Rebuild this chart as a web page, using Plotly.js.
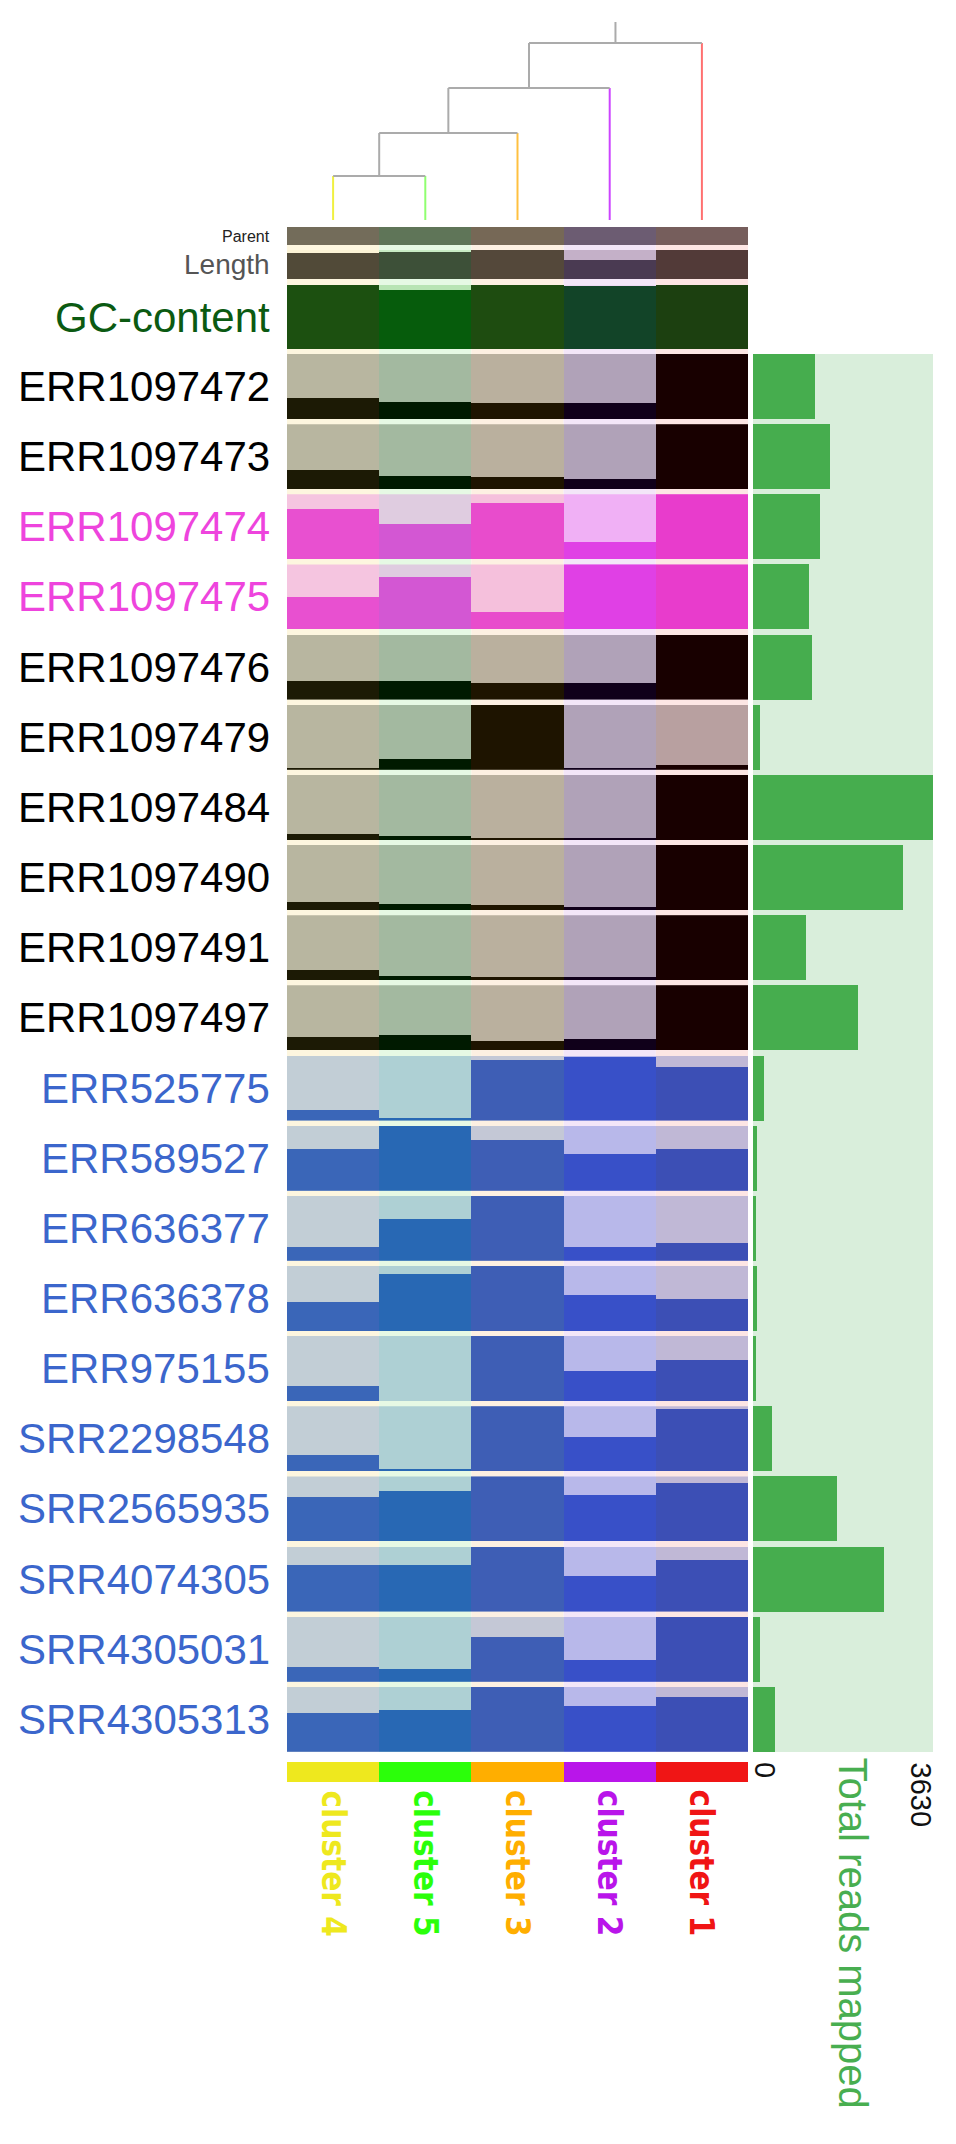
<!DOCTYPE html>
<html>
<head>
<meta charset="utf-8">
<script src="https://cdn.plot.ly/plotly-3.0.1.min.js"></script>
<style>html,body{margin:0;padding:0;background:#fff;}#chart{width:956px;height:2144px;}</style>
</head>
<body>
<div id="chart"></div>
<script>
// ---------- DATA ----------
const clusters = ['cluster 4', 'cluster 5', 'cluster 3', 'cluster 2', 'cluster 1'];
const samples = ['ERR1097472','ERR1097473','ERR1097474','ERR1097475','ERR1097476','ERR1097479',
  'ERR1097484','ERR1097490','ERR1097491','ERR1097497','ERR525775','ERR589527','ERR636377',
  'ERR636378','ERR975155','SRR2298548','SRR2565935','SRR4074305','SRR4305031','SRR4305313'];
const sampleGroup = ['black','black','pink','pink','black','black','black','black','black','black',
  'blue','blue','blue','blue','blue','blue','blue','blue','blue','blue'];

// annotation rows (fraction filled per cluster)
const parentVals = [1, 1, 1, 1, 1];
const lengthVals = [0.90, 0.93, 1, 0.66, 1];
const gcVals = [1, 0.92, 1, 0.98, 1];

// fraction per sample for each cluster column
const cluster4Frac = [0.33,0.29,0.77,0.50,0.28,0.03,0.09,0.12,0.15,0.20,0.16,0.64,0.22,0.44,0.23,0.25,0.68,0.72,0.22,0.60];
const cluster5Frac = [0.26,0.20,0.55,0.80,0.28,0.16,0.06,0.09,0.07,0.24,0.04,1.00,0.64,0.87,0.00,0.03,0.77,0.72,0.20,0.65];
const cluster3Frac = [0.24,0.18,0.86,0.27,0.26,1.00,0.03,0.07,0.05,0.15,0.93,0.78,1.00,1.00,1.00,1.00,1.00,1.00,0.69,1.00];
const cluster2Frac = [0.24,0.15,0.26,1.00,0.26,0.03,0.03,0.04,0.05,0.17,0.98,0.57,0.22,0.56,0.46,0.53,0.71,0.54,0.33,0.71];
const cluster1Frac = [1.00,1.00,1.00,1.00,1.00,0.07,1.00,1.00,1.00,1.00,0.82,0.64,0.28,0.49,0.63,0.96,0.90,0.80,1.00,0.84];

const totalReads = [1250,1560,1345,1130,1197,141,3630,3025,1063,2111,228,87,60,74,60,383,1688,2649,134,438];
const readsMax = 3630;

// dendrogram merge heights (ladder: (c4,c5) -> +c3 -> +c2 -> +c1)
const mergeHeights = [0.22, 0.435, 0.66, 0.885];
const rootHeight = 0.99;

// ---------- STYLE ----------
const W = 956, H = 2144;
const FONT = 'Liberation Sans, Arial, Helvetica, sans-serif';
const clusterColors = ['#eee81e', '#2bff0a', '#ffae00', '#b915ea', '#f01515'];
const leafLineColors = ['#f0f040', '#90ff70', '#ffc040', '#cc44ff', '#ff7070'];
const gapTints = ['#fdf6df', '#e6f9e4', '#fdf0e2', '#f3e6f8', '#fde6e4'];
const groupLight = {
  black: ['#b8b6a0', '#a3b9a0', '#bab09e', '#b0a2b8', '#b8a0a0'],
  pink:  ['#f5c5e0', '#dfcce0', '#f5c0dc', '#f0b0f5', '#f5c0dc'],
  blue:  ['#c2ced6', '#aed0d4', '#c4c8d6', '#b8b8ea', '#c0b8d6']
};
const groupDark = {
  black: ['#1c1a05', '#001a00', '#1e1400', '#10001a', '#180000'],
  pink:  ['#e850d0', '#d357d3', '#e84ccc', '#e040e5', '#e83ccc'],
  blue:  ['#3a66b8', '#2868b4', '#3e5eb5', '#3850c8', '#3c4fb5']
};
const groupLabel = { black: '#000000', pink: '#ee44dd', blue: '#3b66cc' };

const sampleFracByCol = [cluster4Frac, cluster5Frac, cluster3Frac, cluster2Frac, cluster1Frac];

const traces = [];
const layout = {
  width: W, height: H,
  margin: { l: 0, r: 0, t: 0, b: 0 },
  showlegend: false,
  barmode: 'overlay',
  bargap: 0,
  paper_bgcolor: '#ffffff',
  plot_bgcolor: 'rgba(0,0,0,0)',
  annotations: [],
  shapes: [],
  xaxis: { domain: [287 / W, 748 / W], range: [-0.5, 4.5], visible: false, fixedrange: true }
};
const xs = clusters.map((_, i) => i);

let axisN = 0;
function newY(top, bottom, extra) {
  axisN++;
  const name = axisN === 1 ? 'y' : 'y' + axisN;
  const key = axisN === 1 ? 'yaxis' : 'yaxis' + axisN;
  layout[key] = Object.assign({ domain: [1 - bottom / H, 1 - top / H], range: [0, 1], visible: false, anchor: 'x', fixedrange: true }, extra || {});
  return name;
}

function addRow(top, bottom, vals, light, dark, label, font) {
  const yn = newY(top, bottom);
  traces.push({ type: 'bar', x: xs, y: xs.map(() => 1), width: 1, xaxis: 'x', yaxis: yn,
    marker: { color: light, line: { width: 0 } }, hoverinfo: 'skip' });
  traces.push({ type: 'bar', x: xs, y: vals, width: 1, xaxis: 'x', yaxis: yn,
    marker: { color: dark, line: { width: 0 } }, hoverinfo: 'skip' });
  layout.annotations.push({ xref: 'paper', x: 272 / W, xanchor: 'right', yref: yn + ' domain', y: 0.5,
    yanchor: 'middle', text: label, showarrow: false, font: font });
}

// column tints behind the grid (visible in the row gaps)
xs.forEach(i => {
  layout.shapes.push({ type: 'rect', layer: 'below', xref: 'x', yref: 'paper', x0: i - 0.5, x1: i + 0.5,
    y0: 1 - 1752 / H, y1: 1 - 227 / H, fillcolor: gapTints[i], line: { width: 0 } });
});

// annotation rows
addRow(227, 245, parentVals, ['#736c5a','#5f7558','#766856','#6c5c72','#765e5c'],
  ['#736c5a','#5f7558','#766856','#6c5c72','#765e5c'], 'Parent', { family: FONT, size: 16, color: '#222' });
addRow(250, 279, lengthVals, ['#fbf3d5','#c8ecc4','#fbeedd','#c4b0c8','#fbe3df'],
  ['#514a38','#3d5038','#54483a','#4a3a52','#523a38'], 'Length', { family: FONT, size: 28, color: '#555' });
addRow(285, 349, gcVals, ['#fbf3d5','#b8e4b4','#fbeedd','#eed9f4','#fbe3df'],
  ['#1c5010','#065c0c','#1e4c10','#124428','#1c4010'], 'GC-content', { family: FONT, size: 42, color: '#0b5a12' });

// sample rows
const pitch = 70.15, rowH = 65, firstTop = 354;
samples.forEach((s, r) => {
  const top = firstTop + pitch * r;
  const g = sampleGroup[r];
  addRow(top, top + rowH, sampleFracByCol.map(col => col[r]), groupLight[g], groupDark[g], s,
    { family: FONT, size: 42, color: groupLabel[g] });
});

// total reads mapped (horizontal bars)
layout.xaxis2 = { domain: [753 / W, 933 / W], range: [0, readsMax], visible: false, anchor: 'y' + (axisN + 1), fixedrange: true };
const firstC = firstTop + rowH / 2, lastC = firstC + pitch * (samples.length - 1);
const yReads = newY(firstC - pitch / 2, lastC + pitch / 2,
  { type: 'category', categoryarray: samples, categoryorder: 'array', range: [samples.length - 0.5, -0.5], anchor: 'x2' });
layout.shapes.push({ type: 'rect', layer: 'below', xref: 'x2 domain', yref: 'paper', x0: 0, x1: 1,
  y0: 1 - 1752 / H, y1: 1 - 354 / H, fillcolor: '#d9eedb', line: { width: 0 } });
traces.push({ type: 'bar', orientation: 'h', y: samples, x: totalReads, xaxis: 'x2', yaxis: yReads,
  width: rowH / pitch, marker: { color: '#46ad4e', line: { width: 0 } }, hoverinfo: 'skip' });

// dendrogram
const yDen = newY(20, 220);
function seg(x0, y0, x1, y1, color) {
  traces.push({ type: 'scatter', mode: 'lines', x: [x0, x1], y: [y0, y1], xaxis: 'x', yaxis: yDen,
    line: { color: color, width: 2 }, hoverinfo: 'skip' });
}
const GRAY = '#ababab';
let leftX = 0, leftH = 0;
mergeHeights.forEach((h, k) => {
  const right = k + 1;
  if (k === 0) seg(0, 0, 0, h, leafLineColors[0]);
  else seg(leftX, leftH, leftX, h, GRAY);
  seg(right, 0, right, h, leafLineColors[right]);
  seg(leftX, h, right, h, GRAY);
  leftX = (leftX + right) / 2; leftH = h;
});
seg(leftX, leftH, leftX, rootHeight, GRAY);

// cluster colour bar
const yBar = newY(1762, 1782);
traces.push({ type: 'bar', x: xs, y: xs.map(() => 1), width: 1, xaxis: 'x', yaxis: yBar,
  marker: { color: clusterColors, line: { width: 0 } }, hoverinfo: 'skip' });

// cluster labels
clusters.forEach((c, i) => {
  layout.annotations.push({ xref: 'x', x: i, xanchor: 'center', yref: 'paper', y: 1 - 1788 / H, yanchor: 'top',
    textangle: 90, text: '<b>' + c + '</b>', showarrow: false,
    font: { family: 'DejaVu Sans Condensed, ' + FONT, size: 33, color: clusterColors[i] } });
});

// reads axis labels
layout.annotations.push({ xref: 'x2', x: 0, xanchor: 'left', xshift: -6, yref: 'paper', y: 1 - 1760 / H, yanchor: 'top',
  textangle: 90, text: '0', showarrow: false, font: { family: FONT, size: 29, color: '#111' } });
layout.annotations.push({ xref: 'x2', x: readsMax, xanchor: 'right', xshift: 6, yref: 'paper', y: 1 - 1760 / H, yanchor: 'top',
  textangle: 90, text: String(readsMax), showarrow: false, font: { family: FONT, size: 29, color: '#111' } });
layout.annotations.push({ xref: 'paper', x: 853 / W, xanchor: 'center', yref: 'paper', y: 1 - 1755 / H, yanchor: 'top',
  textangle: 90, text: 'Total reads mapped', showarrow: false, font: { family: FONT, size: 40, color: '#48ae50' } });

Plotly.newPlot('chart', traces, layout, { staticPlot: true, displayModeBar: false });
</script>
</body>
</html>
